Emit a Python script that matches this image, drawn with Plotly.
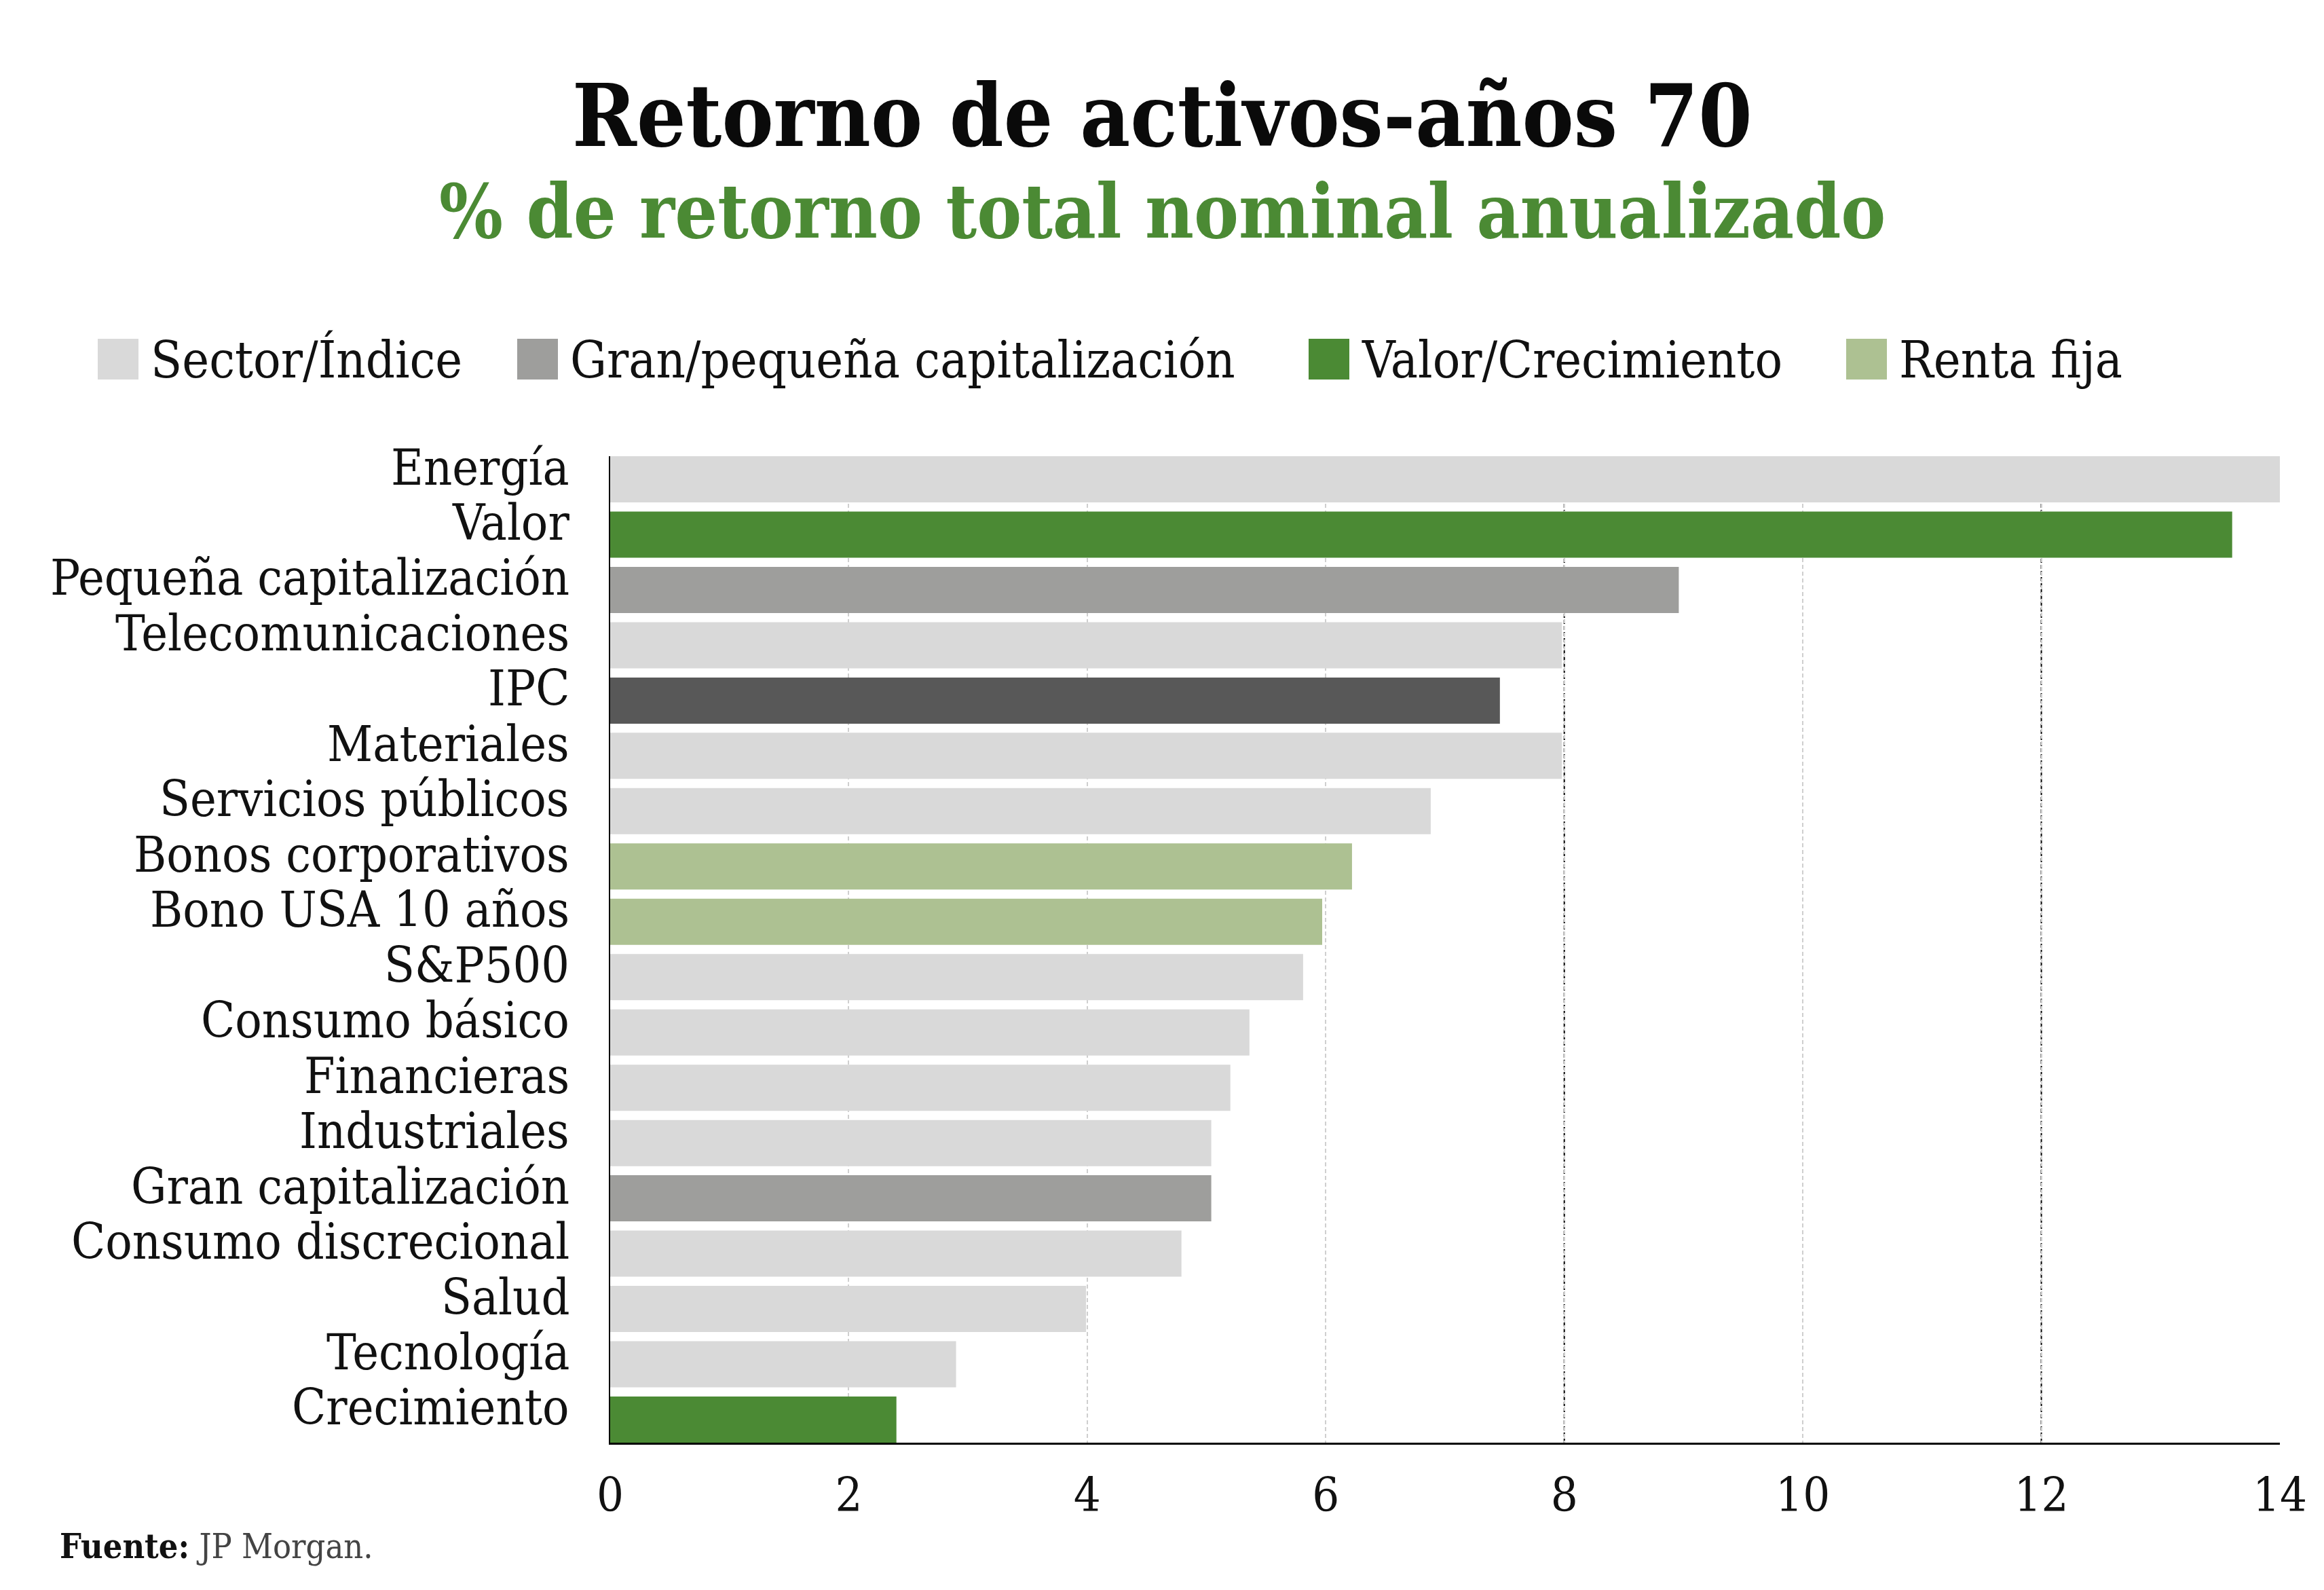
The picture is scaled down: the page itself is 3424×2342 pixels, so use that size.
import plotly.graph_objects as go

# ---------------- data ----------------
categories = ["Energía", "Valor", "Pequeña capitalización", "Telecomunicaciones", "IPC",
              "Materiales", "Servicios públicos", "Bonos corporativos", "Bono USA 10 años",
              "S&P500", "Consumo básico", "Financieras", "Industriales", "Gran capitalización",
              "Consumo discrecional", "Salud", "Tecnología", "Crecimiento"]
returns = [14.0, 13.6, 8.96, 7.98, 7.46, 7.98, 6.88, 6.22, 5.97, 5.81, 5.36, 5.20,
           5.04, 5.04, 4.79, 3.99, 2.90, 2.40]
groups = ["Sector/Índice", "Valor/Crecimiento", "Gran/pequeña capitalización", "Sector/Índice",
          "IPC", "Sector/Índice", "Sector/Índice", "Renta fija", "Renta fija", "Sector/Índice",
          "Sector/Índice", "Sector/Índice", "Sector/Índice", "Gran/pequeña capitalización",
          "Sector/Índice", "Sector/Índice", "Sector/Índice", "Valor/Crecimiento"]
legend_groups = ["Sector/Índice", "Gran/pequeña capitalización", "Valor/Crecimiento", "Renta fija"]
x_ticks = [0, 2, 4, 6, 8, 10, 12, 14]
highlight_grid = [8, 12]

title_text = "Retorno de activos-años 70"
subtitle_text = "% de retorno total nominal anualizado"
source_label = "Fuente:"
source_text = "JP Morgan."

# ---------------- style ----------------
colors = {
    "Sector/Índice": "#d9d9d9",
    "Gran/pequeña capitalización": "#9e9e9c",
    "Valor/Crecimiento": "#4b8a34",
    "Renta fija": "#adc192",
    "IPC": "#585858",
}
FONT = "DejaVu Serif Condensed, DejaVu Serif, serif"
OFF = 8                      # default page margin around the plot div
FIG_W, FIG_H = 3424 - OFF, 2342 - OFF
L, R, T, B = 899 - OFF, 65, 672 - OFF, 217
PW, PH = FIG_W - L - R, FIG_H - T - B


def px_x(px):
    """page pixel x -> paper x"""
    return (px - OFF - L) / PW


def px_y(py):
    """page pixel y -> paper y"""
    return 1 - (py - OFF - T) / PH


fig = go.Figure()
for g in legend_groups + ["IPC"]:
    ys = [c for c, gg in zip(categories, groups) if gg == g]
    xs = [v for v, gg in zip(returns, groups) if gg == g]
    fig.add_trace(go.Bar(
        y=ys, x=xs, orientation="h", name=g,
        marker=dict(color=colors[g], line=dict(width=0)),
        showlegend=False,
        hovertemplate="%{y}: %{x:.2f}%<extra></extra>",
    ))

for v in highlight_grid:
    fig.add_vline(x=v, line=dict(color="black", width=2, dash="6px,3px"), layer="below")

annotations = [
    dict(text=f"<b>{title_text}</b>", x=px_x(1712), y=px_y(170), xref="paper", yref="paper",
         xanchor="center", yanchor="middle", showarrow=False,
         font=dict(family=FONT, size=127, color="#0a0a0a")),
    dict(text=f"<b>{subtitle_text}</b>", x=px_x(1712), y=px_y(312), xref="paper", yref="paper",
         xanchor="center", yanchor="middle", showarrow=False,
         font=dict(family=FONT, size=110, color="#4b8a34")),
    dict(text=f"<b>{source_label}</b> <span style='color:#444444'>{source_text}</span>",
         x=px_x(86), y=px_y(2277), xref="paper", yref="paper",
         xanchor="left", yanchor="middle", showarrow=False,
         font=dict(family=FONT, size=50, color="#111111")),
]

# category labels (placed on the category axis, nudged up like the original)
for c in categories:
    annotations.append(dict(text=c, x=0, y=c, xref="x", yref="y",
                            xanchor="right", yanchor="middle", xshift=-58, yshift=18,
                            showarrow=False,
                            font=dict(family=FONT, size=73, color="#111111")))

# legend built from swatches + labels
legend_left = [144, 762, 1928, 2720]
shapes = []
for g, lx in zip(legend_groups, legend_left):
    shapes.append(dict(type="rect", xref="paper", yref="paper",
                       x0=px_x(lx), x1=px_x(lx + 60), y0=px_y(559), y1=px_y(499),
                       fillcolor=colors[g], line=dict(width=0)))
    annotations.append(dict(text=g, x=px_x(lx + 76), y=px_y(530), xref="paper", yref="paper",
                            xanchor="left", yanchor="middle", showarrow=False,
                            font=dict(family=FONT, size=75, color="#111111")))

fig.update_layout(
    template="none",
    width=FIG_W, height=FIG_H,
    margin=dict(l=L, r=R, t=T, b=B, pad=0, autoexpand=False),
    paper_bgcolor="white", plot_bgcolor="white",
    barmode="overlay", bargap=0.165,
    showlegend=False,
    font=dict(family=FONT, color="#111111"),
    annotations=annotations,
    shapes=list(fig.layout.shapes) + shapes,
    xaxis=dict(range=[0, 14], tickmode="array", tickvals=x_ticks,
               ticktext=[str(t) for t in x_ticks], automargin=False,
               showgrid=True, gridcolor="#cfcfcf", gridwidth=1.5, griddash="6px,4px",
               zeroline=False, showline=True, linecolor="black", linewidth=3,
               ticks="", ticklabelstandoff=14,
               tickfont=dict(family=FONT, size=70, color="#111111")),
    yaxis=dict(type="category", categoryorder="array", categoryarray=categories[::-1],
               range=[-0.4175, len(categories) - 1 + 0.4175], automargin=False,
               showgrid=False, zeroline=False, showline=True, linecolor="black", linewidth=2,
               ticks="", showticklabels=False),
)

fig.write_html("out.html")
